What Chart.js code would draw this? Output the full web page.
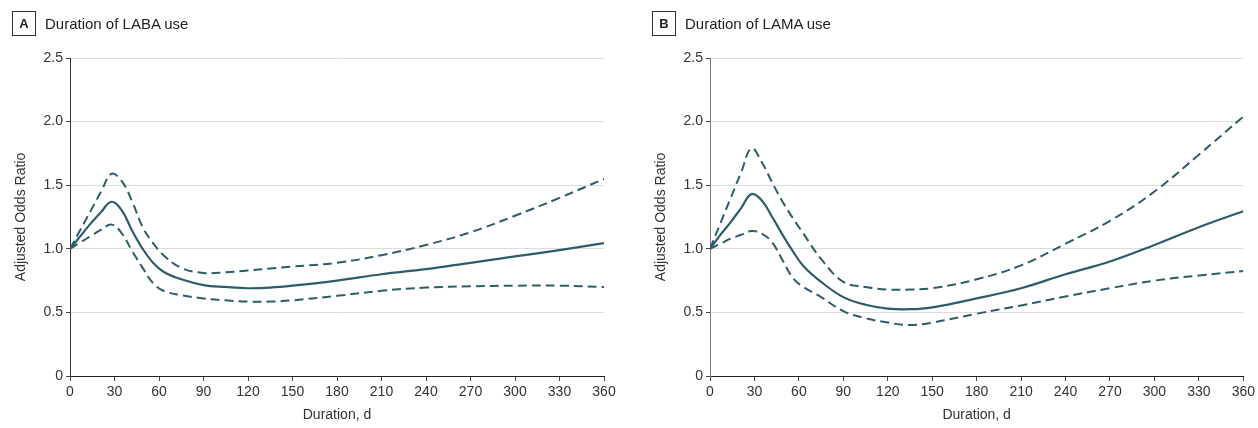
<!DOCTYPE html>
<html>
<head>
<meta charset="utf-8">
<script src="https://cdn.jsdelivr.net/npm/chart.js@4"></script>
<style>
  body { margin: 0; background: #fff; width: 1258px; height: 428px; overflow: hidden; position: relative; }
  .panel { position: absolute; top: 0; height: 428px; }
  .head { position: absolute; top: 11px; left: 12px; height: 25px; display: flex; align-items: center;
          font-family: 'Liberation Sans', sans-serif; font-size: 15px; color: #222; }
  .tag { width: 22px; height: 23px; border: 1px solid #333; display: flex; align-items: center; justify-content: center;
         font-weight: bold; font-size: 13px; margin-right: 9px; }
</style>
</head>
<body>
<div class="panel" style="left:0;width:640px">
  <canvas id="graficoA" width="640" height="428"></canvas>
  <div class="head"><div class="tag">A</div>Duration of LABA use</div>
</div>
<div class="panel" style="left:640px;width:618px">
  <canvas id="graficoB" width="618" height="428"></canvas>
  <div class="head"><div class="tag">B</div>Duration of LAMA use</div>
</div>
<script>
// dias de uso
const dias = [0, 7, 14, 21, 28, 35, 42, 49, 56, 63, 75, 90, 105, 120, 135, 150, 180, 210, 240, 270, 300, 330, 360];
const ticksX = [0, 30, 60, 90, 120, 150, 180, 210, 240, 270, 300, 330, 360];
const ticksY = [0, 0.5, 1.0, 1.5, 2.0, 2.5];

// LABA (painel A)
const labaOR    = [1.0, 1.10, 1.20, 1.29, 1.37, 1.30, 1.14, 1.00, 0.89, 0.82, 0.76, 0.715, 0.70, 0.69, 0.695, 0.71, 0.75, 0.80, 0.84, 0.89, 0.94, 0.99, 1.045];
const labaSup   = [1.0, 1.15, 1.30, 1.45, 1.59, 1.53, 1.37, 1.17, 1.045, 0.95, 0.85, 0.81, 0.815, 0.83, 0.845, 0.86, 0.89, 0.95, 1.03, 1.13, 1.26, 1.40, 1.55];
const labaInf   = [1.0, 1.05, 1.10, 1.15, 1.19, 1.12, 0.98, 0.85, 0.73, 0.67, 0.635, 0.61, 0.595, 0.585, 0.585, 0.595, 0.63, 0.67, 0.695, 0.705, 0.71, 0.71, 0.70];

// LAMA (painel B)
const lamaOR    = [1.0, 1.11, 1.21, 1.32, 1.43, 1.38, 1.25, 1.11, 0.98, 0.865, 0.74, 0.62, 0.56, 0.53, 0.525, 0.54, 0.61, 0.69, 0.80, 0.90, 1.03, 1.17, 1.295];
const lamaSup   = [1.0, 1.20, 1.40, 1.60, 1.79, 1.68, 1.52, 1.37, 1.24, 1.12, 0.92, 0.74, 0.70, 0.68, 0.68, 0.69, 0.76, 0.87, 1.04, 1.22, 1.45, 1.74, 2.04];
const lamaInf   = [1.0, 1.04, 1.08, 1.11, 1.14, 1.12, 1.05, 0.91, 0.77, 0.70, 0.62, 0.51, 0.455, 0.42, 0.40, 0.42, 0.49, 0.555, 0.625, 0.69, 0.75, 0.79, 0.825];

const corLinha = "#2e5d69";
const fonte = "'Liberation Sans', sans-serif";

function pontos(valores) {
    return dias.map((d, i) => ({ x: d, y: valores[i] }));
}

function serie(valores, tracejada) {
    return {
        data: pontos(valores),
        borderColor: corLinha,
        borderWidth: tracejada ? 2 : 2.2,
        borderDash: tracejada ? [9, 5] : [],
        pointRadius: 0,
        fill: false,
        tension: 0.4
    };
}

function criarGrafico(id, or, sup, inf, padDireita, corEixoY) {
    const ctx = document.getElementById(id).getContext("2d");
    return new Chart(ctx, {
        type: "line",
        data: { datasets: [serie(sup, true), serie(or, false), serie(inf, true)] },
        options: {
            responsive: false,
            animation: false,
            layout: { padding: { top: 58, left: 0, right: padDireita, bottom: 0 } },
            plugins: { legend: { display: false }, tooltip: { enabled: false } },
            scales: {
                x: {
                    type: "linear", min: 0, max: 360,
                    afterFit: s => { s.height = 52; },
                    afterBuildTicks: s => { s.ticks = ticksX.map(v => ({ value: v })); },
                    border: { color: "#222", width: 1 },
                    grid: { drawOnChartArea: false, drawTicks: true, tickLength: 5, tickColor: "#444" },
                    ticks: { maxRotation: 0, padding: 3, color: "#333", font: { family: fonte, size: 14 } },
                    title: { display: true, text: "Duration, d", color: "#333", font: { family: fonte, size: 14 }, padding: { top: 0, bottom: 4 } }
                },
                y: {
                    min: 0, max: 2.5,
                    afterFit: s => { s.width = 70; },
                    afterBuildTicks: s => { s.ticks = ticksY.map(v => ({ value: v })); },
                    border: { color: corEixoY, width: 1 },
                    grid: { color: "#dcdcdc", lineWidth: 1, tickLength: 4, tickColor: "#444" },
                    ticks: { padding: 3, color: "#333", font: { family: fonte, size: 14 },
                             callback: v => v === 0 ? "0" : v.toFixed(1) },
                    title: { display: true, text: "Adjusted Odds Ratio", color: "#333", font: { family: fonte, size: 14 }, padding: { top: 13, bottom: 0 } }
                }
            }
        }
    });
}

criarGrafico("graficoA", labaOR, labaSup, labaInf, 36, "#333");
criarGrafico("graficoB", lamaOR, lamaSup, lamaInf, 14, "#777");
</script>
</body>
</html>
